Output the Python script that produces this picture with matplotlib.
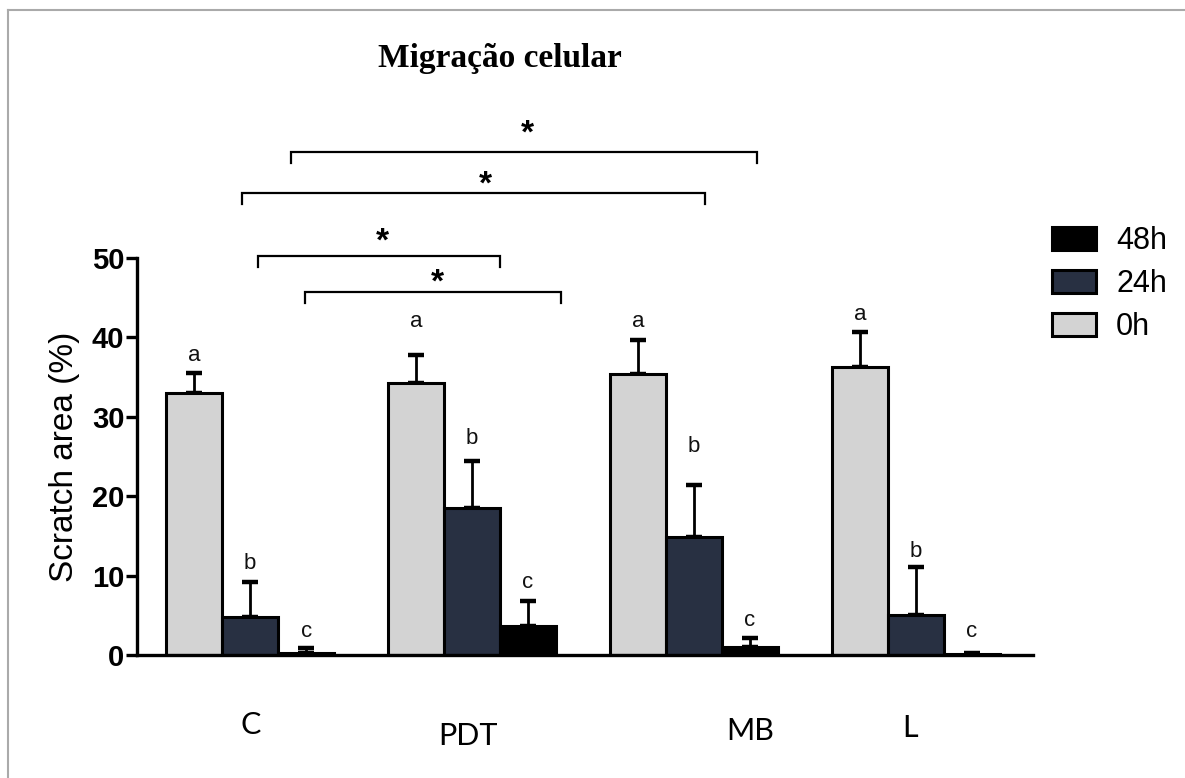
import matplotlib
matplotlib.use('Agg')
import matplotlib.pyplot as plt
import numpy as np
from matplotlib.lines import Line2D
from matplotlib.patches import Patch

# ---------------- data ----------------
groups = ['C', 'PDT', 'MB', 'L']
series_names = ['0h', '24h', '48h']
mean_0h = [33.0, 34.3, 35.4, 36.3]
err_0h = [2.5, 3.5, 4.3, 4.4]
mean_24h = [4.8, 18.5, 14.8, 5.0]
err_24h = [4.4, 5.9, 6.6, 6.1]
mean_48h = [0.25, 3.6, 1.0, 0.1]
err_48h = [0.65, 3.2, 1.1, 0.12]
letters = ['a', 'b', 'c']
# letter baselines (in axis units) for 0h, 24h, 48h of each group
letter_y_0h = [37.0, 41.3, 41.3, 42.2]
letter_y_24h = [10.8, 26.6, 25.6, 12.4]
letter_y_48h = [2.3, 8.4, 3.6, 2.3]
yticks = [0, 10, 20, 30, 40, 50]

colors = {'0h': '#d3d3d3', '24h': '#283042', '48h': '#000000'}

# ---------------- figure ----------------
fig = plt.figure(figsize=(11.85, 7.78), dpi=100)
ax = fig.add_axes([137/1185, 1-655/778, (1033-137)/1185, (655-258)/778])

group_step = 3.96
centers = np.arange(len(groups)) * group_step
width = 1.0
offsets = {'0h': -1.0, '24h': 0.0, '48h': 1.0}
means = {'0h': mean_0h, '24h': mean_24h, '48h': mean_48h}
errs = {'0h': err_0h, '24h': err_24h, '48h': err_48h}
lety = {'0h': letter_y_0h, '24h': letter_y_24h, '48h': letter_y_48h}

for s, let in zip(series_names, letters):
    x = centers + offsets[s]
    ax.errorbar(x, means[s], yerr=[np.zeros(len(groups)), errs[s]], fmt='none',
                ecolor='black', elinewidth=2.0, capsize=6, capthick=3.2, zorder=1)
    ax.bar(x, means[s], width=width, color=colors[s], edgecolor='black',
           linewidth=2.2, zorder=2)
    for xi, yi in zip(x, lety[s]):
        ax.text(xi, yi, let, ha='center', va='baseline', fontsize=16,
                family='Liberation Sans', color='#111111')

ax.set_xlim(-2.02, centers[-1] + 2.09)
ax.set_ylim(0, 50)
ax.set_yticks(yticks)
ax.set_yticklabels([str(t) for t in yticks], fontsize=21, fontweight='bold',
                   family='Liberation Sans')
ax.set_xticks([])
for sp in ['top', 'right']:
    ax.spines[sp].set_visible(False)
for sp in ['left', 'bottom']:
    ax.spines[sp].set_linewidth(2.4)
ax.tick_params(axis='y', length=8, width=2.4, pad=1)
ax.set_ylabel('Scratch area (%)', fontsize=24, family='Liberation Sans')
ax.yaxis.set_label_coords(-0.064, 0.5)

# category labels placed below the axis
cat_x = [0.0, 3.88, 8.93, 11.77]
cat_y = [-9.92, -11.3, -10.7, -10.3]
for g, xx, yy in zip(groups, cat_x, cat_y):
    ax.text(xx, yy, g, ha='center', va='baseline', fontsize=22, family='Lato',
            clip_on=False)

# significance brackets: (x1, x2, y, drop, star_x, star_baseline)
brackets = [
    (0.73, 9.04, 63.3, 1.3, 4.95, 64.6),
    (-0.14, 8.11, 58.2, 1.4, 4.20, 58.1),
    (0.14, 4.45, 50.25, 1.4, 2.36, 50.9),
    (0.98, 5.54, 45.7, 1.4, 3.34, 45.8),
]
for x1, x2, y, d, sx, sy in brackets:
    ax.plot([x1, x1, x2, x2], [y - d, y, y, y - d], color='black', lw=1.6,
            clip_on=False, solid_joinstyle='miter')
    ax.text(sx, sy, '*', ha='center', va='baseline', fontsize=24,
            fontweight='bold', family='Liberation Sans', clip_on=False)

# legend
handles = [Patch(facecolor=colors[s], edgecolor='black', linewidth=2.2)
           for s in ['48h', '24h', '0h']]
ax.legend(handles, ['48h', '24h', '0h'], loc='upper left',
          bbox_to_anchor=(1052/1185, 1-226/778), bbox_transform=fig.transFigure,
          frameon=False, borderpad=0, borderaxespad=0, handlelength=1.45,
          handleheight=0.78, handletextpad=0.65, labelspacing=0.42,
          prop={'family': 'Liberation Sans', 'size': 22})

# title
fig.text(500/1185, 1-58/778, 'Migração celular', ha='center', va='center',
         family='Liberation Serif', fontweight='bold', fontsize=24)

# grey frame lines (top and left)
fig.add_artist(Line2D([8/1185, 1], [1-10/778, 1-10/778], color='#aaaaaa',
                      lw=1.5, transform=fig.transFigure))
fig.add_artist(Line2D([8/1185, 8/1185], [0, 1-10/778], color='#aaaaaa',
                      lw=1.5, transform=fig.transFigure))

fig.savefig('out.png', dpi=100)
